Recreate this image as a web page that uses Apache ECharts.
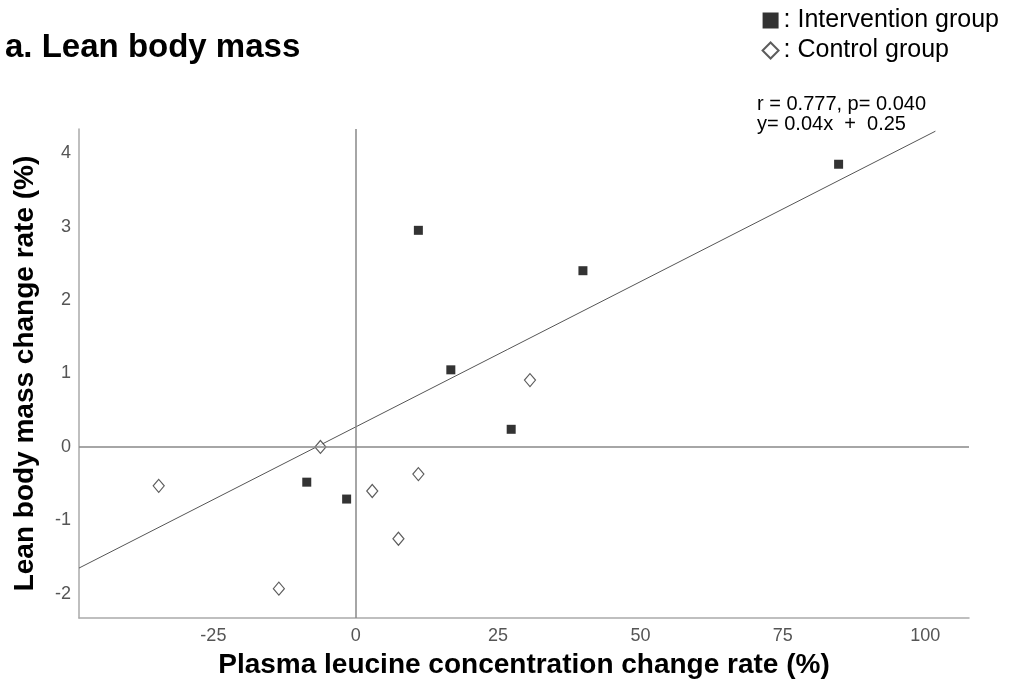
<!DOCTYPE html>
<html>
<head>
<meta charset="utf-8">
<script src="https://cdn.jsdelivr.net/npm/echarts@6/dist/echarts.min.js"></script>
<style>
  html, body { margin: 0; padding: 0; background: #fff; }
  #chart { width: 1011px; height: 695px; }
</style>
</head>
<body>
<div id="chart"></div>
<script>
// intervention group (filled squares)
var interX = [11.0, 16.7, 39.9, 84.8, 27.3, -8.6, -1.6];
var interY = [2.95, 1.05, 2.40, 3.85, 0.24, -0.48, -0.71];
// control group (open diamonds)
var ctrlX = [30.6, -6.2, -34.6, 2.9, -13.5, 11.0, 7.5];
var ctrlY = [0.91, 0.00, -0.53, -0.60, -1.93, -0.37, -1.25];
// fit line end points
var fitX = [-48.6, 101.8];
var fitY = [-1.65, 4.30];
var xTicks = [-25, 0, 25, 50, 75, 100];
var yTicks = [-2, -1, 0, 1, 2, 3, 4];

var font = 'Liberation Sans, Arial, sans-serif';

function pairs(xs, ys) {
	return xs.map(function (x, i) { return [x, ys[i]]; });
}

var chart = echarts.init(document.getElementById('chart'));
var option = {
	animation: false,
	title: [
		{
			text: 'a. Lean body mass',
			left: 0, top: 26,
			textStyle: { fontFamily: font, fontSize: 33, fontWeight: 'bold', color: '#000' }
		},
		{
			text: 'r = 0.777, p= 0.040\ny= 0.04x  +  0.25',
			left: 752, top: 89,
			textStyle: { fontFamily: font, fontSize: 20, fontWeight: 'normal', color: '#000', lineHeight: 20 }
		}
	],
	legend: {
		orient: 'vertical',
		right: 7, top: 3,
		itemWidth: 16, itemHeight: 16,
		itemGap: 5,
		formatter: ': {name}',
		textStyle: { fontFamily: font, fontSize: 25, color: '#000' },
		data: ['Intervention group', 'Control group']
	},
	grid: { left: 79, right: 42, top: 129, bottom: 77, outerBoundsMode: 'none', containLabel: false },
	xAxis: {
		type: 'value',
		min: -48.6, max: 107.7,
		name: 'Plasma leucine concentration change rate (%)',
		nameLocation: 'middle',
		nameGap: 33,
		nameTextStyle: { fontFamily: font, fontSize: 28, fontWeight: 'bold', color: '#000' },
		axisLine: { show: true, onZero: false, lineStyle: { color: '#aaa', width: 1.5 } },
		axisTick: { show: false },
		splitLine: { show: false },
		axisLabel: { customValues: xTicks, fontFamily: font, fontSize: 18, color: '#555', margin: 9 }
	},
	yAxis: {
		type: 'value',
		min: -2.33, max: 4.33,
		name: 'Lean body mass change rate (%)',
		nameLocation: 'middle',
		nameGap: 40,
		nameTextStyle: { fontFamily: font, fontSize: 28, fontWeight: 'bold', color: '#000' },
		axisLine: { show: true, onZero: false, lineStyle: { color: '#aaa', width: 1.5 } },
		axisTick: { show: false },
		splitLine: { show: false },
		axisLabel: { customValues: yTicks, fontFamily: font, fontSize: 18, color: '#555', margin: 8 }
	},
	series: [
		{
			name: 'fit',
			type: 'line',
			data: pairs(fitX, fitY),
			symbol: 'none',
			silent: true,
			clip: true,
			lineStyle: { color: '#555', width: 1 },
			z: 1,
			markLine: {
				silent: true,
				symbol: 'none',
				label: { show: false },
				lineStyle: { color: '#888', width: 1.5, type: 'solid' },
				data: [{ xAxis: 0 }, { yAxis: 0 }]
			}
		},
		{
			name: 'Intervention group',
			type: 'scatter',
			data: pairs(interX, interY),
			symbol: 'rect',
			symbolSize: 9,
			itemStyle: { color: '#000' },
			z: 3
		},
		{
			name: 'Control group',
			type: 'scatter',
			data: pairs(ctrlX, ctrlY),
			symbol: 'diamond',
			symbolSize: [11, 13],
			itemStyle: { color: '#fff', borderColor: '#333', borderWidth: 1.2 },
			z: 3
		}
	]
};
chart.setOption(option);
</script>
</body>
</html>
